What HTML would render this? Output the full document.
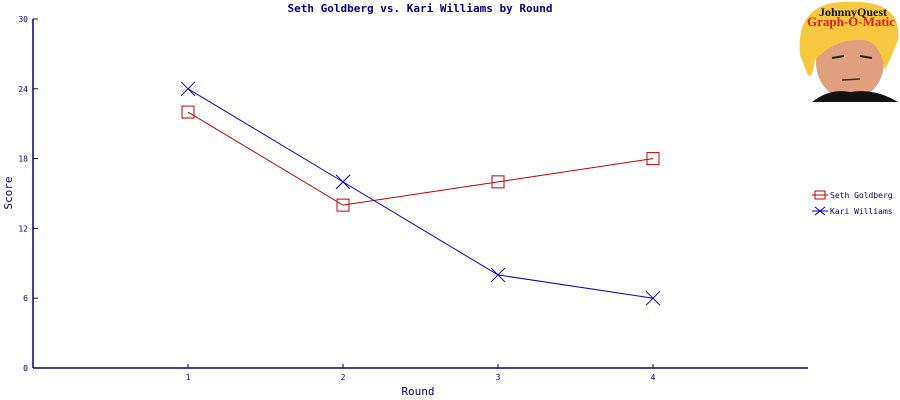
<!DOCTYPE html>
<html><head><meta charset="utf-8"><style>
body{margin:0;background:#fff;}
svg{display:block;font-family:"DejaVu Sans Mono","Liberation Mono",monospace;}
</style></head><body>
<svg id="chart" width="900" height="400" xmlns="http://www.w3.org/2000/svg">
<text x="420" y="12" text-anchor="middle" font-size="11" font-weight="bold" fill="#000080">Seth Goldberg vs. Kari Williams by Round</text>
<text x="418" y="395" text-anchor="middle" font-size="11" fill="#000080">Round</text>
<text x="12" y="193" text-anchor="middle" font-size="11" fill="#000080" transform="rotate(-90 12 193)">Score</text>
<g id="axes"></g>
<g id="series"></g>
<g>
<g>
<line x1="812" y1="195" x2="828" y2="195" stroke="#c00000" stroke-width="1"/>
<rect x="815" y="191" width="10" height="8" fill="none" stroke="#c00000"/>
<text x="830" y="198" font-size="8" fill="#000080">Seth Goldberg</text></g>
<g>
<line x1="812" y1="211" x2="828" y2="211" stroke="#0000c0"/>
<line x1="815" y1="207" x2="825" y2="215" stroke="#0000c0"/><line x1="815" y1="215" x2="825" y2="207" stroke="#0000c0"/>
<text x="830" y="214" font-size="8" fill="#000080">Kari Williams</text></g>
</g>
<g>
<rect x="798" y="0" width="102" height="102" fill="#fff"/>
<ellipse cx="850" cy="62" rx="34" ry="38" fill="#e0a080"/>
<path d="M800 55 Q795 0 850 2 Q902 0 898 40 Q890 60 885 70 Q880 40 862 40 Q835 38 815 60 Q812 80 808 75 Z" fill="#f8c840"/>
<path d="M812 102 Q830 88 850 92 Q875 88 898 102 Z" fill="#111"/>
<path d="M832 58 L844 56 M860 56 L872 58" stroke="#222" stroke-width="2"/>
<path d="M842 80 L860 79" stroke="#333" stroke-width="1.5"/>
<text x="853" y="16" text-anchor="middle" font-family="Liberation Serif,serif" font-weight="bold" font-size="12" fill="#111">JohnnyQuest</text>
<text x="851" y="26" text-anchor="middle" font-family="Liberation Serif,serif" font-weight="bold" font-size="13" fill="#e02020">Graph-O-Matic</text>
</g>
</svg>
<script>
const rounds=[1,2,3,4];
const sethScores=[22,14,16,18];
const kariScores=[24,16,8,6];
const yTicks=[0,6,12,18,24,30];
const NS="http://www.w3.org/2000/svg";
const X0=33,X1=808,Y0=368,Y1=19;
function xs(v){return X0+(v/5)*(X1-X0);}
function ys(v){return Y0-(v/30)*(Y0-Y1);}
function mk(t,a,p){const e=document.createElementNS(NS,t);for(const k in a)e.setAttribute(k,a[k]);p.appendChild(e);return e;}
const ax=document.getElementById('axes');
const ya=mk('line',{x1:X0,y1:Y1,x2:X0,y2:Y0,stroke:'#000080','stroke-width':1.5},ax);


const xa=mk('line',{x1:X0,y1:Y0,x2:X1,y2:Y0,stroke:'#000080','stroke-width':1.5},ax);


yTicks.forEach(t=>{const y=ys(t);
mk('line',{x1:X0,y1:y,x2:X0+5,y2:y,stroke:'#000080'},ax);
const tx=mk('text',{x:28,y:y+3,'text-anchor':'end','font-size':8,fill:'#000080'},ax);tx.textContent=t;

});
rounds.forEach(r=>{const x=xs(r);
mk('line',{x1:x,y1:Y0,x2:x,y2:Y0-4,stroke:'#000080'},ax);
const tx=mk('text',{x:x,y:380,'text-anchor':'middle','font-size':8,fill:'#000080'},ax);tx.textContent=r;

});
const sg=document.getElementById('series');
function draw(vals,color,kind,name){
const pl=mk('polyline',{points:vals.map((v,i)=>xs(rounds[i])+','+ys(v)).join(' '),fill:'none',stroke:color},sg);


vals.forEach((v,i)=>{const x=xs(rounds[i]),y=ys(v);let m;
if(kind==='sq'){m=mk('rect',{x:x-6,y:y-6,width:12,height:12,fill:'none',stroke:color},sg);}
else{m=mk('path',{d:`M${x-7} ${y-7}L${x+7} ${y+7}M${x-7} ${y+7}L${x+7} ${y-7}`,stroke:color},sg);}

});}
draw(sethScores,'#c00000','sq','seth');
draw(kariScores,'#0000c0','x','kari');
</script>
</body></html>
